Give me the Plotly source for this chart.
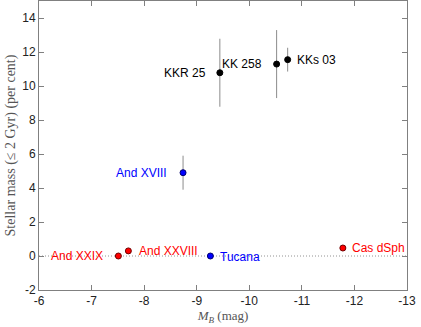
import plotly.graph_objects as go

names = ["And XXIX", "And XXVIII", "Tucana", "Cas dSph", "And XVIII", "KKR 25", "KK 258", "KKs 03"]
mag_b = [-7.51, -7.70, -9.26, -11.78, -8.74, -9.44, -10.52, -10.73]
mass = [0.0, 0.3, 0.0, 0.47, 4.9, 10.78, 11.29, 11.55]
mass_err = [0, 0, 0, 0, 1.0, 2.0, 2.0, 0.7]
group = ["red", "red", "blue", "red", "blue", "black", "black", "black"]

x_ticks = [-6, -7, -8, -9, -10, -11, -12, -13]
y_ticks = [-2, 0, 2, 4, 6, 8, 10, 12, 14]

fill = {"red": "#ff0000", "blue": "#0000ff", "black": "#000000"}
edge = {"red": "#700000", "blue": "#000070", "black": "#000000"}
txt = {"red": "#ff0000", "blue": "#0000ff", "black": "#000000"}

# label placement (style): side, x shift px, y shift px
label_pos = {
    "And XXIX": ("right", -13, 0),
    "And XXVIII": ("left", 9, 0),
    "Tucana": ("left", 8, -1),
    "Cas dSph": ("left", 7, 0),
    "And XVIII": ("right", -14, 0),
    "KKR 25": ("right", -12, 0),
    "KK 258": ("right", -13, 0),
    "KKs 03": ("left", 7, 0),
}

fig = go.Figure()

# dotted zero line
fig.add_trace(go.Scatter(x=[x_ticks[0], x_ticks[-1]], y=[0, 0], mode="lines",
                         line=dict(color="#777777", width=0.8, dash="1px,2px"),
                         hoverinfo="skip", showlegend=False))

for g in ["black", "blue", "red"]:
    idx = [i for i in range(len(names)) if group[i] == g]
    fig.add_trace(go.Scatter(
        x=[mag_b[i] for i in idx], y=[mass[i] for i in idx], mode="markers",
        marker=dict(size=6, color=fill[g], line=dict(color=edge[g], width=1)),
        error_y=dict(type="data", array=[mass_err[i] for i in idx], visible=True,
                     color="#8c8c8c", thickness=1, width=0),
        showlegend=False))

for i, n in enumerate(names):
    side, xs, ys = label_pos[n]
    fig.add_annotation(x=mag_b[i], y=mass[i], text=n, showarrow=False,
                       xanchor=side, yanchor="middle", xshift=xs, yshift=ys,
                       font=dict(family="Liberation Sans, Arial", size=12, color=txt[group[i]]))

axis_common = dict(showline=True, linecolor="#808080", linewidth=1, mirror="ticks",
                   ticks="inside", ticklen=5, tickcolor="#808080", showgrid=False,
                   zeroline=False, tickfont=dict(family="Liberation Sans, Arial", size=12, color="#222222"))

fig.update_xaxes(range=[x_ticks[0], x_ticks[-1]], tickvals=x_ticks,
                 ticktext=[str(v) for v in x_ticks],
                 title=dict(text="<i>M</i><sub><i>B</i></sub> (mag)", standoff=2,
                            font=dict(family="Liberation Serif, Times New Roman", size=13, color="#555555")),
                 **axis_common)
fig.update_yaxes(range=[-2, 15], tickvals=y_ticks, ticktext=[str(v) for v in y_ticks],
                 title=dict(text="Stellar mass (≤ 2 Gyr) (per cent)", standoff=3,
                            font=dict(family="Liberation Serif, Times New Roman", size=14, color="#555555")),
                 **axis_common)

fig.update_layout(width=421, height=327, margin=dict(l=39, r=14, t=1, b=37, autoexpand=False),
                  plot_bgcolor="white", paper_bgcolor="white")

fig.write_html("out.html", config={"displayModeBar": False},
               post_script="document.body.style.margin='0';document.body.style.padding='0';")
